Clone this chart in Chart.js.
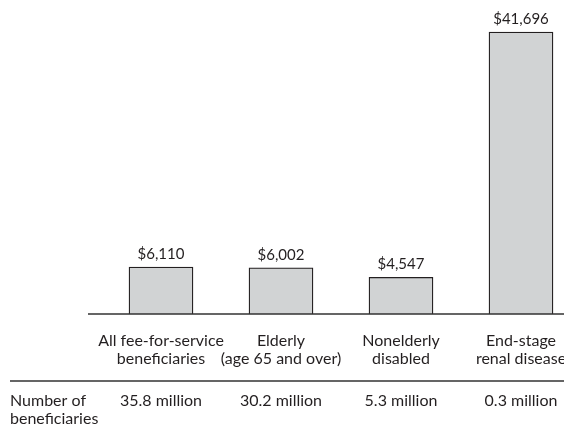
<!DOCTYPE html>
<html>
<head>
<meta charset="utf-8">
<script src="https://cdn.jsdelivr.net/npm/chart.js@4"></script>
<style>
  html, body { margin: 0; padding: 0; background: #fff; overflow: hidden; }
  #wrap { width: 581px; height: 426px; }
</style>
</head>
<body>
<div id="wrap"><canvas id="chart"></canvas></div>
<script>
const groups = [
    ['All fee-for-service', 'beneficiaries'],
    ['Elderly', '(age 65 and over)'],
    ['Nonelderly', 'disabled'],
    ['End-stage', 'renal disease']
];
const spending = [6110, 6002, 4547, 41696];
const beneficiaries = ['35.8 million', '30.2 million', '5.3 million', '0.3 million'];
const rowTitle = ['Number of', 'beneficiaries'];

const ink = '#231f20';
const fontFamily = 'Lato, "Open Sans", sans-serif';
const labelSize = 16;
const lineH = 18;

const extras = {
    id: 'extras',
    afterDatasetsDraw(chart) {
        const ctx = chart.ctx;
        const area = chart.chartArea;
        const x2 = chart.scales.x2;
        ctx.save();
        ctx.strokeStyle = '#333';
        ctx.lineWidth = 1.5;
        ctx.beginPath();
        ctx.moveTo(88, area.bottom);
        ctx.lineTo(chart.width, area.bottom);
        ctx.moveTo(10, x2.top);
        ctx.lineTo(chart.width, x2.top);
        ctx.stroke();

        // value labels over the bars
        ctx.fillStyle = ink;
        ctx.font = '15px ' + fontFamily;
        ctx.textAlign = 'center';
        ctx.textBaseline = 'alphabetic';
        chart.getDatasetMeta(0).data.forEach(function (bar, i) {
            ctx.fillText('$' + spending[i].toLocaleString('en-US'), bar.x, bar.y - 8);
        });

        // row heading at the left of the beneficiary counts
        ctx.font = labelSize + 'px ' + fontFamily;
        ctx.textAlign = 'left';
        ctx.textBaseline = 'middle';
        rowTitle.forEach(function (line, i) {
            ctx.fillText(line, 10, x2.top + 11 + lineH / 2 + i * lineH);
        });
        ctx.restore();
    }
};

function fixHeight(h) {
    return function (scale) {
        scale.height = h;
        scale.paddingLeft = 0;
        scale.paddingRight = 0;
    };
}

const tickFont = { family: fontFamily, size: labelSize, lineHeight: lineH / labelSize };

new Chart(document.getElementById('chart').getContext('2d'), {
    type: 'bar',
    data: {
        labels: groups,
        datasets: [{
            data: spending,
            base: -1000,
            backgroundColor: '#d1d3d4',
            borderColor: ink,
            borderWidth: 1.3,
            barThickness: 64
        }]
    },
    options: {
        responsive: true,
        maintainAspectRatio: false,
        animation: false,
        layout: { padding: { left: 101, right: 0, top: 30, bottom: 0 } },
        plugins: {
            legend: { display: false },
            tooltip: { enabled: false }
        },
        scales: {
            x: {
                position: 'bottom',
                offset: true,
                grid: { display: false, drawTicks: false },
                border: { display: false },
                ticks: {
                    color: ink,
                    font: tickFont,
                    padding: 18,
                    maxRotation: 0,
                    minRotation: 0,
                    autoSkip: false
                },
                afterFit: fixHeight(67)
            },
            x2: {
                type: 'category',
                position: 'bottom',
                labels: beneficiaries,
                offset: true,
                grid: { display: false, drawTicks: false },
                border: { display: false },
                ticks: {
                    color: ink,
                    font: tickFont,
                    padding: 11,
                    maxRotation: 0,
                    minRotation: 0,
                    autoSkip: false
                },
                afterFit: fixHeight(45)
            },
            y: {
                display: false,
                min: -1000,
                max: 42000
            }
        }
    },
    plugins: [extras]
});
</script>
</body>
</html>
